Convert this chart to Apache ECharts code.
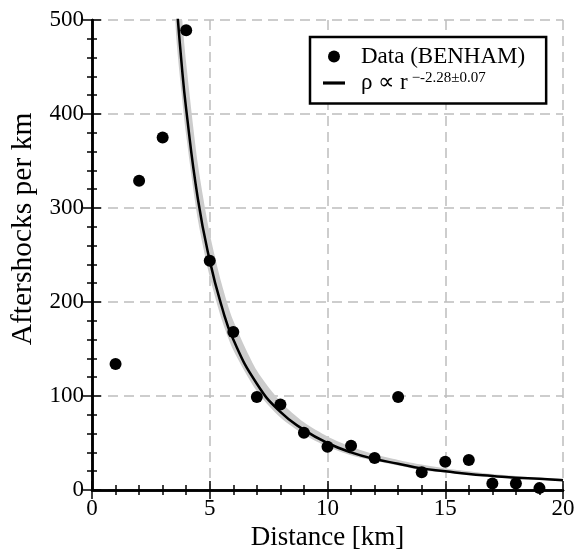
<!DOCTYPE html>
<html>
<head>
<meta charset="utf-8">
<script src="https://cdn.jsdelivr.net/npm/echarts@6/dist/echarts.min.js"></script>
<style>html,body{margin:0;padding:0;background:#fff;}#c{width:583px;height:552px;}</style>
</head>
<body>
<div id="c"></div>
<script>
// Observed data
var distances = [1,2,3,4,5,6,7,8,9,10,11,12,13,14,15,16,17,18,19];
var aftershocks = [134,329,375,489,244,168,99,91,61,46,47,34,99,19,30,32,7,7,2];
// Fitted power-law curve
var fitX = [3.55,3.8,4,4.5,5,5.5,6,7,8,9,10,11,12,13,14,15,16,17,18,19,20];
var fitY = [531,455,405,309,244,196,160,113,83,64,50,40,33,28,23,20,17,15,13,12,10.3];
// Uncertainty band
var bandLow = [494,423,377,287,227,182,149,105,77,59,46,37,31,26,21,18.5,16,14,12,11,9.5];
var bandHigh = [595,510,454,346,273,220,180,127,94,72,57,46,38,32,27,23,20,17,15,13,12];
var xTicks = [0,5,10,15,20];
var yTicks = [0,100,200,300,400,500];

var FONT = 'Liberation Serif';
var chart = echarts.init(document.getElementById('c'));

function pairs(xs, ys) { return xs.map(function (x, i) { return [x, ys[i]]; }); }

var axisLineStyle = {color: '#000', width: 2.5};
var gridLine = {show: true, lineStyle: {color: '#bdbdbd', width: 1.5, type: [10, 6]}};
var tickCfg = {show: true, inside: true, length: 9, lineStyle: {color: '#000', width: 1.5}};
var minorCfg = {show: true, splitNumber: 5, length: 5, lineStyle: {color: '#000', width: 1.5}};

chart.setOption({
  animation: false,
  backgroundColor: '#fff',
  grid: {left: 92, right: 20, top: 20, bottom: 62, containLabel: false, outerBoundsMode: 'none'},
  legend: {
    data: [
      {name: 'Data (BENHAM)', icon: 'circle'},
      {name: 'fit', icon: 'path://M0,0H18V2.6H0Z'}
    ],
    orient: 'vertical',
    left: 310, top: 37,
    padding: [8, 21, 9, 13],
    itemGap: 3,
    itemWidth: 22, itemHeight: 12,
    borderColor: '#000', borderWidth: 2.5,
    backgroundColor: '#fff',
    textStyle: {
      fontFamily: FONT, fontSize: 23, color: '#000',
      rich: {
        a: {fontFamily: FONT, fontSize: 23, color: '#000', lineHeight: 24, padding: [0, 0, 0, 11]},
        s: {fontFamily: FONT, fontSize: 15, color: '#000', verticalAlign: 'top', lineHeight: 24, padding: [0, 0, 8, 4]}
      }
    },
    formatter: function (name) {
      if (name === 'fit') return '{a|\u03c1 \u221d r}{s|\u2212-2.28\u00b10.07}';
      return '{a|' + name + '}';
    }
  },
  xAxis: [{
    type: 'value', min: xTicks[0], max: xTicks[xTicks.length - 1], interval: 5,
    name: 'Distance [km]', nameLocation: 'middle', nameGap: 32,
    nameTextStyle: {fontFamily: FONT, fontSize: 27, color: '#000'},
    axisLine: {show: true, lineStyle: axisLineStyle},
    axisTick: tickCfg, minorTick: minorCfg,
    axisLabel: {fontFamily: FONT, fontSize: 23, color: '#000', margin: 7},
    splitLine: gridLine
  }, {
    type: 'value', position: 'top', min: 0, max: 20, interval: 5,
    axisLine: {show: true, lineStyle: axisLineStyle},
    axisTick: tickCfg, minorTick: minorCfg,
    axisLabel: {show: false}, splitLine: {show: false}
  }],
  yAxis: [{
    type: 'value', min: yTicks[0], max: yTicks[yTicks.length - 1], interval: 100,
    name: 'Aftershocks per km', nameLocation: 'middle', nameGap: 52,
    nameTextStyle: {fontFamily: FONT, fontSize: 29.5, color: '#000', padding: [0, 0, 0, 52]},
    axisLine: {show: true, lineStyle: axisLineStyle},
    axisTick: tickCfg, minorTick: minorCfg,
    axisLabel: {fontFamily: FONT, fontSize: 23, color: '#000', margin: 8},
    splitLine: gridLine
  }, {
    type: 'value', position: 'right', min: 0, max: 500, interval: 100,
    axisLine: {show: true, lineStyle: axisLineStyle},
    axisTick: tickCfg, minorTick: minorCfg,
    axisLabel: {show: false}, splitLine: {show: false}
  }],
  series: [
    {
      name: 'band', type: 'custom', silent: true, z: 1,
      data: pairs(fitX, bandHigh),
      renderItem: function (params, api) {
        if (params.dataIndex !== 0) return null;
        var pts = [];
        for (var i = 0; i < fitX.length; i++) pts.push(api.coord([fitX[i], bandHigh[i]]));
        for (var j = fitX.length - 1; j >= 0; j--) pts.push(api.coord([fitX[j], bandLow[j]]));
        var cs = params.coordSys;
        return {
          type: 'group',
          children: [{type: 'polygon', shape: {points: pts, smooth: 0.25}, style: {fill: '#cccccc', stroke: null}}],
          clipPath: {type: 'rect', shape: {x: cs.x, y: cs.y, width: cs.width, height: cs.height}}
        };
      }
    },
    {
      name: 'fit', type: 'line', data: pairs(fitX, fitY),
      showSymbol: false, symbol: 'none', smooth: true,
      lineStyle: {color: '#000', width: 2.5}, itemStyle: {color: '#000'}, z: 3
    },
    {
      name: 'Data (BENHAM)', type: 'scatter', data: pairs(distances, aftershocks),
      symbol: 'circle', symbolSize: 12, itemStyle: {color: '#000', opacity: 1}, z: 4
    }
  ]
});
</script>
</body>
</html>
